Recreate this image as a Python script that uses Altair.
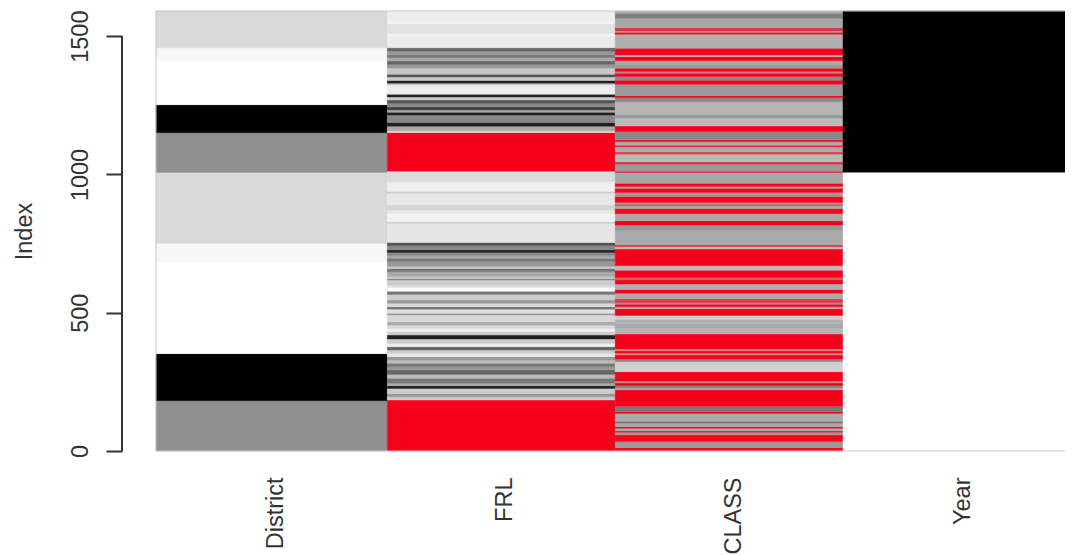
import altair as alt
import pandas as pd

RED = "#f7001c"
TOP = 1591

columns = ["District", "FRL", "CLASS", "Year"]
column_edges = [0, 1.01, 2.005, 3, 4]

district_tops = [182, 352, 684, 750, 1007, 1151, 1252, 1411, 1458, TOP]
district_cols = ["8f", "00", "ff", "f7", "d9", "8f", "00", "ff", "f7", "d9"]

frl_tops = [184, 196, 208, 226, 236, 245, 263, 277, 293, 305, 317, 329, 341, 353, 365, 377, 389,
            405, 419, 431, 443, 455, 467, 492, 498, 513, 522, 534, 546, 566, 578, 590, 600, 618,
            624, 630, 648, 660, 667, 685, 697, 706, 718, 727, 742, 754,
            823, 829, 859, 871, 890, 932, 938, 974, 1012,
            1152, 1157, 1174, 1188, 1215, 1225, 1233, 1245, 1257, 1269, 1280, 1290, 1323, 1330,
            1340, 1352, 1362, 1384, 1398, 1410, 1422, 1434, 1446, 1458, 1498, 1510, 1546, 1552, TOP]
frl_cols = ["r", "cc", "99", "cc", "22", "aa", "77", "bb", "66", "99", "77", "bb", "99", "e8", "cc", "66", "ee",
            "cc", "22", "cc", "ee", "d8", "aa", "d8", "99", "e0", "77", "d8", "99", "cc", "77", "ff", "dd", "cc",
            "88", "cc", "aa", "77", "cc", "99", "77", "aa", "88", "22", "88", "55",
            "e6", "d0", "f2", "e5", "d5", "e8", "cc", "ee", "dc",
            "r", "e8", "aa", "22", "88", "22", "aa", "44", "88", "55", "cc", "22", "ee", "cc",
            "22", "cc", "55", "c8", "99", "66", "aa", "77", "99", "66", "eb", "f2", "e2", "f6", "ee"]

class_tops = [12, 34, 58, 68, 72, 82, 88, 100, 108, 136, 142, 162, 221, 227, 236, 246, 253, 287, 323, 333,
              347, 354, 362, 369, 383, 423, 443, 461, 476, 490, 514, 522, 531, 536, 550, 570, 584, 604, 618, 627, 654,
              670, 730, 739, 745, 799, 817, 833, 858, 877, 887, 892, 899, 920, 935, 950, 956, 968, 1007,
              1012, 1037, 1046, 1073, 1082, 1100, 1106, 1118, 1125, 1155, 1175, 1203, 1215, 1263, 1278,
              1285, 1326, 1341, 1354, 1366, 1372, 1384, 1396, 1411, 1426, 1432, 1456, 1507, 1514, 1519,
              1531, 1564, 1583, TOP]
class_cols = ["r", "99", "r", "99", "r", "aa", "r", "aa", "77", "aa", "r", "77", "r", "aa", "88", "r", "#cc8888",
              "r", "d0", "88", "r", "#cc8888", "r", "#cc8888", "r", "r", "b5", "a8", "b0", "d0", "r", "aa", "r", "99", "#d83a4a",
              "aa", "r", "b0", "r", "#bb6666", "r", "bb", "r", "bb", "#e0303f", "aa", "99", "r", "aa", "r", "aa",
              "#cc4444", "99", "r", "99", "r", "aa", "r", "a8", "r", "99", "#e0303f", "b8", "#e0404f", "aa", "r",
              "aa", "r", "88", "r", "bb", "99", "b5", "88", "r", "99", "r", "88", "r", "#c08088", "r", "99", "aa",
              "r", "b5", "r", "b0", "r", "aa", "#d8384c", "a8", "80", "aa"]

year_tops = [1008, TOP]
year_cols = ["ff", "00"]

tick_values = [0, 500, 1000, 1500]


def shade(code):
    if code == "r":
        return RED
    if code.startswith("#"):
        return code
    return "#" + code * 3


rows = []
for pos, (tops, cols) in enumerate([(district_tops, district_cols), (frl_tops, frl_cols),
                                    (class_tops, class_cols), (year_tops, year_cols)]):
    low = 0
    for t, c in zip(tops, cols):
        rows.append({"c0": column_edges[pos], "c1": column_edges[pos + 1], "lo": low, "hi": t, "col": shade(c)})
        low = t
df = pd.DataFrame(rows)

xscale = alt.Scale(domain=[0, 4], range=[0, 916], nice=False, zero=False)
yscale = alt.Scale(domain=[0, TOP], nice=False, zero=False)
ink = "#333333"
font_size = 23.5
label_expr = "['District','FRL','CLASS','Year'][floor(datum.value)]"

cells = alt.Chart(df).mark_rect(strokeWidth=0.4, clip=False).encode(
    x=alt.X("c0:Q", scale=xscale, axis=alt.Axis(
        values=[0.5, 1.5, 2.5, 3.5], labelExpr=label_expr, title=None, domain=False, ticks=False, grid=False,
        labelAngle=270, labelAlign="right", labelBaseline="middle", labelPadding=26, labelFontSize=font_size,
        labelOffset=5, labelFont="Liberation Sans", labelColor=ink, labelBound=False, labelFlush=False,
        labelOverlap=False)),
    x2="c1:Q",
    y=alt.Y("lo:Q", scale=yscale, axis=alt.Axis(
        values=tick_values, title="Index", domain=False, grid=False, offset=34, tickSize=16, tickWidth=2,
        tickColor=ink, labelAngle=270, labelAlign="center", labelBaseline="bottom", labelPadding=14,
        labelFontSize=font_size, labelFont="Liberation Sans", labelColor=ink, titleFont="Liberation Sans",
        titleFontSize=font_size, titleFontWeight="normal", titleColor=ink, titlePadding=32, format="d",
        labelFlush=False, labelOverlap=False)),
    y2="hi:Q",
    fill=alt.Fill("col:N", scale=None),
    stroke=alt.Stroke("col:N", scale=None),
)

frame = alt.Chart(pd.DataFrame({"a": [0], "b": [4], "lo": [0], "hi": [TOP]})).mark_rect(
    filled=False, stroke="#c8c8c8", strokeWidth=1).encode(
    x=alt.X("a:Q", scale=xscale), x2="b:Q", y=alt.Y("lo:Q", scale=yscale), y2="hi:Q")

spine = alt.Chart(pd.DataFrame({"lo": [tick_values[0]], "hi": [tick_values[-1]]})).mark_rule(
    color=ink, strokeWidth=2, clip=False).encode(
    x=alt.value(-34), y=alt.Y("lo:Q", scale=yscale), y2="hi:Q")

chart = alt.layer(cells, frame, spine).properties(
    width=909, height=440,
    padding={"left": 148, "top": 3, "right": 0, "bottom": 103},
    autosize=alt.AutoSizeParams(type="none"),
).configure_view(stroke=None)

chart.save("out.html", embed_options={"renderer": "svg", "actions": False})
